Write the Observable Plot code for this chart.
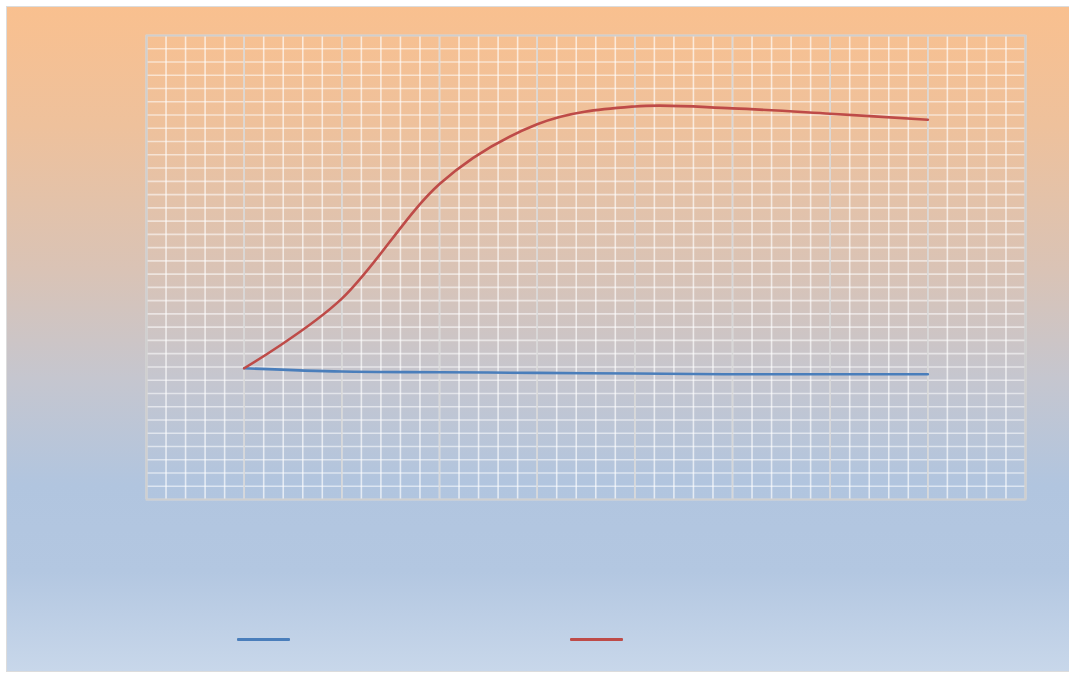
<!DOCTYPE html>
<html>
<head>
<meta charset="utf-8">
<script src="https://cdn.jsdelivr.net/npm/d3@7"></script>
<script src="https://cdn.jsdelivr.net/npm/@observablehq/plot@0.6"></script>
<style>
  html, body { margin: 0; padding: 0; background: #ffffff; }
  body { width: 1069px; height: 677px; position: relative; overflow: hidden; font-family: "Liberation Sans", Arial, sans-serif; }
  #frame {
    position: absolute; left: 6px; top: 6px; width: 1063px; height: 666px;
    box-sizing: border-box; border: 1.5px solid #dcdcdc; border-right: none;
    background: linear-gradient(to bottom, #f9c08f 0%, #eec19c 18%, #d9c3b6 40%, #c5c6cf 56%, #b1c5df 72%, #b3c7e1 85%, #c8d7ea 100%);
  }
  #chart { position: absolute; left: 0; top: 0; }
  #legend { position: absolute; left: 0; top: 634px; width: 1069px; height: 14px; }
  .sw { position: absolute; top: 4px; width: 53px; height: 3px; border-radius: 1px; }
</style>
</head>
<body>
<div id="frame"></div>
<div id="chart"></div>
<div id="legend">
  <div class="sw" style="left:237px;background:#4a7ebb"></div>
  <div class="sw" style="left:570px;background:#be4b48"></div>
</div>
<script>
// ---- data ----
const xValues = [5, 10, 15, 20, 25, 30, 35, 40];
const series1 = [19.8, 19.3, 19.2, 19.1, 19.0, 18.9, 18.9, 18.9];   // blue
const series2 = [19.8, 30.3, 47.6, 56.6, 59.3, 59.0, 58.2, 57.3];   // red
const xMinorTicks = d3.range(0, 46, 1);
const xMajorTicks = d3.range(0, 46, 5);
const yMinorTicks = d3.range(0, 71, 2);

const rows1 = xValues.map((x, i) => ({x, y: series1[i]}));
const rows2 = xValues.map((x, i) => ({x, y: series2[i]}));

const chart = Plot.plot({
  width: 1069,
  height: 520,
  marginLeft: 146,
  marginRight: 44,
  marginTop: 35,
  marginBottom: 21,
  style: {background: "transparent"},
  x: {domain: [0, 45], axis: null},
  y: {domain: [0, 70], axis: null},
  marks: [
    Plot.ruleY(yMinorTicks, {stroke: "#ffffff", strokeOpacity: 0.55, strokeWidth: 1.6}),
    Plot.ruleX(xMinorTicks, {stroke: "#ffffff", strokeOpacity: 0.65, strokeWidth: 1.6}),
    Plot.ruleX(xMajorTicks, {stroke: "#d4d4d4", strokeOpacity: 0.85, strokeWidth: 1.6}),
    Plot.frame({stroke: "#cfcfcf", strokeWidth: 2}),
    Plot.line(rows1, {x: "x", y: "y", stroke: "#4a7ebb", strokeWidth: 2.6, curve: "cardinal"}),
    Plot.line(rows2, {x: "x", y: "y", stroke: "#be4b48", strokeWidth: 2.6, curve: "cardinal"})
  ]
});
document.getElementById("chart").appendChild(chart);
</script>
</body>
</html>
